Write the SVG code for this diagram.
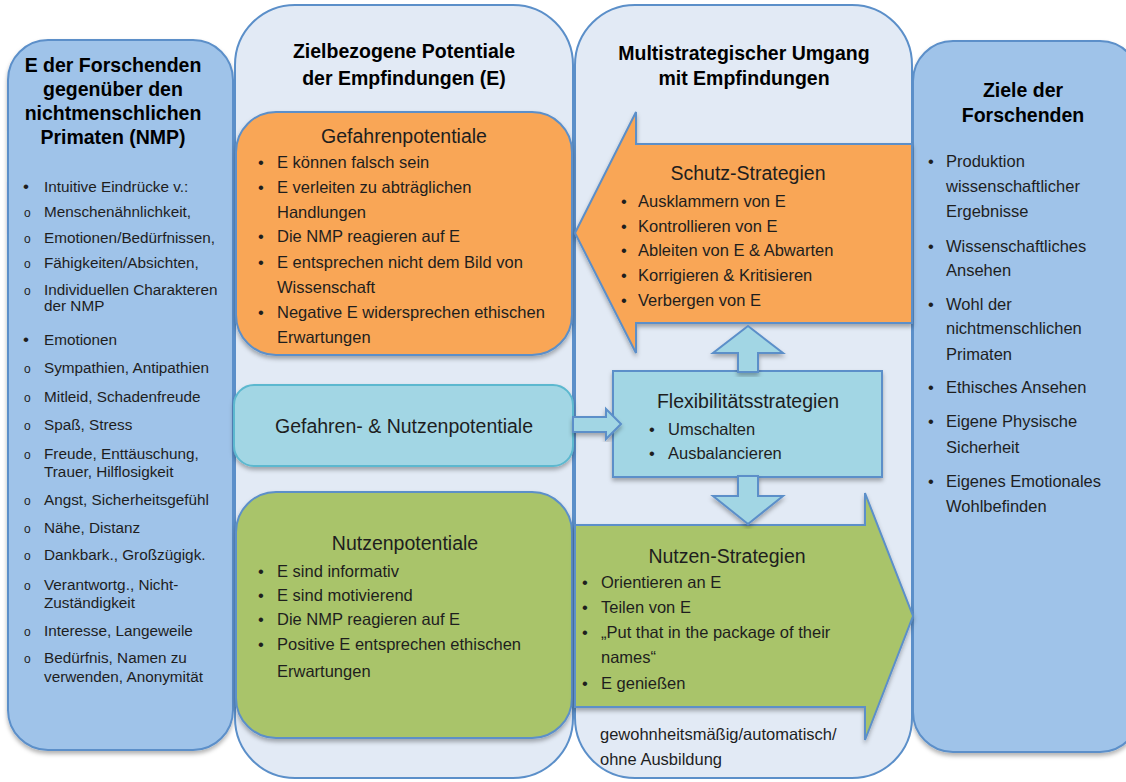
<svg xmlns="http://www.w3.org/2000/svg" width="1126" height="782" viewBox="0 0 1126 782">
<defs>
<filter id="sh" x="-10%" y="-10%" width="120%" height="120%">
<feDropShadow dx="0" dy="3" stdDeviation="2" flood-color="#000" flood-opacity="0.3"/>
</filter>
<style>
.col{fill:#e2eaf5;stroke:#5b8fc9;stroke-width:2}
.side{fill:#9fc3e9;stroke:#5b8fc9;stroke-width:2}
.org{fill:#f9a656;stroke:#5b8fc9;stroke-width:2}
.grn{fill:#a9c46a;stroke:#5b8fc9;stroke-width:2}
.cyn{fill:#a2d6e4;stroke:#5b8fc9;stroke-width:2}
.cynb{fill:#a2d6e4;stroke:#5cb8cf;stroke-width:2}
text{font-family:"Liberation Sans",Arial,sans-serif;fill:#1e1e1e}
.ttl{font-weight:bold;font-size:19.5px;text-anchor:middle;fill:#000}
.hd{font-size:19.5px;text-anchor:middle}
.li{font-size:16.5px}
.ll{font-size:15.3px}
.sb{font-size:12px}
.bl{font-size:17px}
</style>
</defs>
<g id="left-column">
<rect class="side" x="8" y="40" width="225" height="710" rx="40" filter="url(#sh)"/>
<text class="ttl"><tspan x="113" y="72">E der Forschenden</tspan><tspan x="113" y="96">gegenüber den</tspan><tspan x="113" y="120">nichtmenschlichen</tspan><tspan x="113" y="144">Primaten (NMP)</tspan></text>
<g class="ll">
<text class="bl" x="23" y="192">•</text><text x="44" y="192">Intuitive Eindrücke v.:</text>
<text class="sb" x="24" y="217">o</text><text x="44" y="217">Menschenähnlichkeit,</text>
<text class="sb" x="24" y="243">o</text><text x="44" y="243">Emotionen/Bedürfnissen,</text>
<text class="sb" x="24" y="268">o</text><text x="44" y="268">Fähigkeiten/Absichten,</text>
<text class="sb" x="24" y="295">o</text><text x="44" y="295">Individuellen Charakteren</text><text x="44" y="311">der NMP</text>
<text class="bl" x="23" y="345">•</text><text x="44" y="345">Emotionen</text>
<text class="sb" x="24" y="373">o</text><text x="44" y="373">Sympathien, Antipathien</text>
<text class="sb" x="24" y="402">o</text><text x="44" y="402">Mitleid, Schadenfreude</text>
<text class="sb" x="24" y="430">o</text><text x="44" y="430">Spaß, Stress</text>
<text class="sb" x="24" y="459">o</text><text x="44" y="459">Freude, Enttäuschung,</text><text x="44" y="477">Trauer, Hilflosigkeit</text>
<text class="sb" x="24" y="505">o</text><text x="44" y="505">Angst, Sicherheitsgefühl</text>
<text class="sb" x="24" y="533">o</text><text x="44" y="533">Nähe, Distanz</text>
<text class="sb" x="24" y="560">o</text><text x="44" y="560">Dankbark., Großzügigk.</text>
<text class="sb" x="24" y="590">o</text><text x="44" y="590">Verantwortg., Nicht-</text><text x="44" y="608">Zuständigkeit</text>
<text class="sb" x="24" y="636">o</text><text x="44" y="636">Interesse, Langeweile</text>
<text class="sb" x="24" y="663">o</text><text x="44" y="663">Bedürfnis, Namen zu</text><text x="44" y="682">verwenden, Anonymität</text>
</g>
</g>
<g id="right-column">
<rect class="side" x="913" y="41" width="227" height="711" rx="40" filter="url(#sh)"/>
<text class="ttl"><tspan x="1023" y="97">Ziele der</tspan><tspan x="1023" y="122">Forschenden</tspan></text>
<g class="li">
<text x="928" y="167">•</text><text x="946" y="167">Produktion</text><text x="946" y="192">wissenschaftlicher</text><text x="946" y="217">Ergebnisse</text>
<text x="928" y="252">•</text><text x="946" y="252">Wissenschaftliches</text><text x="946" y="276">Ansehen</text>
<text x="928" y="310">•</text><text x="946" y="310">Wohl der</text><text x="946" y="334">nichtmenschlichen</text><text x="946" y="360">Primaten</text>
<text x="928" y="393">•</text><text x="946" y="393">Ethisches Ansehen</text>
<text x="928" y="427">•</text><text x="946" y="427">Eigene Physische</text><text x="946" y="453">Sicherheit</text>
<text x="928" y="487">•</text><text x="946" y="487">Eigenes Emotionales</text><text x="946" y="512">Wohlbefinden</text>
</g>
</g>
<g id="potentials-column">
<rect class="col" x="235" y="5" width="338" height="773" rx="60"/>
<text class="ttl"><tspan x="404" y="58">Zielbezogene Potentiale</tspan><tspan x="404" y="85">der Empfindungen (E)</tspan></text>
</g>
<g id="strategies-column">
<rect class="col" x="575" y="5" width="337" height="773" rx="60"/>
<text class="ttl"><tspan x="744" y="60">Multistrategischer Umgang</tspan><tspan x="744" y="85">mit Empfindungen</tspan></text>
<text class="li" x="600" y="740">gewohnheitsmäßig/automatisch/</text>
<text class="li" x="600" y="765">ohne Ausbildung</text>
</g>
<g id="gefahrenpotentiale">
<rect class="org" x="236" y="112" width="336" height="243" rx="40" filter="url(#sh)"/>
<text class="hd" x="404" y="143">Gefahrenpotentiale</text>
<g class="li">
<text x="258" y="168">•</text><text x="277" y="168">E können falsch sein</text>
<text x="258" y="193">•</text><text x="277" y="193">E verleiten zu abträglichen</text><text x="277" y="218">Handlungen</text>
<text x="258" y="242">•</text><text x="277" y="242">Die NMP reagieren auf E</text>
<text x="258" y="268">•</text><text x="277" y="268">E entsprechen nicht dem Bild von</text><text x="277" y="293">Wissenschaft</text>
<text x="258" y="318">•</text><text x="277" y="318">Negative E widersprechen ethischen</text><text x="277" y="343">Erwartungen</text>
</g>
</g>
<g id="gefahren-nutzenpotentiale">
<rect class="cynb" x="234" y="385" width="339" height="81" rx="20" filter="url(#sh)"/>
<text class="hd" x="404" y="433">Gefahren- &amp; Nutzenpotentiale</text>
</g>
<g id="nutzenpotentiale">
<rect class="grn" x="236" y="492" width="336" height="246" rx="40" filter="url(#sh)"/>
<text class="hd" x="405" y="550">Nutzenpotentiale</text>
<g class="li">
<text x="258" y="577">•</text><text x="277" y="577">E sind informativ</text>
<text x="258" y="601">•</text><text x="277" y="601">E sind motivierend</text>
<text x="258" y="625">•</text><text x="277" y="625">Die NMP reagieren auf E</text>
<text x="258" y="650">•</text><text x="277" y="650">Positive E entsprechen ethischen</text><text x="277" y="677">Erwartungen</text>
</g>
</g>
<g id="schutz-strategien">
<polygon class="org" points="575,233 636,112 636,144 912,144 912,323 636,323 636,353" filter="url(#sh)"/>
<text class="hd" x="748" y="180">Schutz-Strategien</text>
<g class="li">
<text x="621" y="207">•</text><text x="638" y="207">Ausklammern von E</text>
<text x="621" y="232">•</text><text x="638" y="232">Kontrollieren von E</text>
<text x="621" y="256">•</text><text x="638" y="256">Ableiten von E &amp; Abwarten</text>
<text x="621" y="281">•</text><text x="638" y="281">Korrigieren &amp; Kritisieren</text>
<text x="621" y="306">•</text><text x="638" y="306">Verbergen von E</text>
</g>
</g>
<g id="nutzen-strategien">
<polygon class="grn" points="575,525 865,525 865,493 913,616 865,740 865,707 575,707" filter="url(#sh)"/>
<text class="hd" x="727" y="563">Nutzen-Strategien</text>
<g class="li">
<text x="582" y="588">•</text><text x="601" y="588">Orientieren an E</text>
<text x="582" y="613">•</text><text x="601" y="613">Teilen von E</text>
<text x="582" y="638">•</text><text x="601" y="638">„Put that in the package of their</text><text x="601" y="663">names“</text>
<text x="582" y="689">•</text><text x="601" y="689">E genießen</text>
</g>
</g>
<g id="flexibilitaetsstrategien">
<rect class="cyn" x="613" y="371" width="269" height="106" filter="url(#sh)"/>
<text class="hd" x="748" y="408">Flexibilitätsstrategien</text>
<g class="li">
<text x="649" y="435">•</text><text x="668" y="435">Umschalten</text>
<text x="649" y="459">•</text><text x="668" y="459">Ausbalancieren</text>
</g>
</g>
<g id="connectors">
<polygon class="cyn" points="748,326 783,353 758,353 758,372 738,372 738,353 713,353" filter="url(#sh)"/>
<polygon class="cyn" points="738,476 758,476 758,496 783,496 748,524 713,496 738,496" filter="url(#sh)"/>
<polygon class="cyn" points="573,417 606,417 606,409 621,424 606,439 606,432 573,432" filter="url(#sh)"/>
</g>
</svg>
